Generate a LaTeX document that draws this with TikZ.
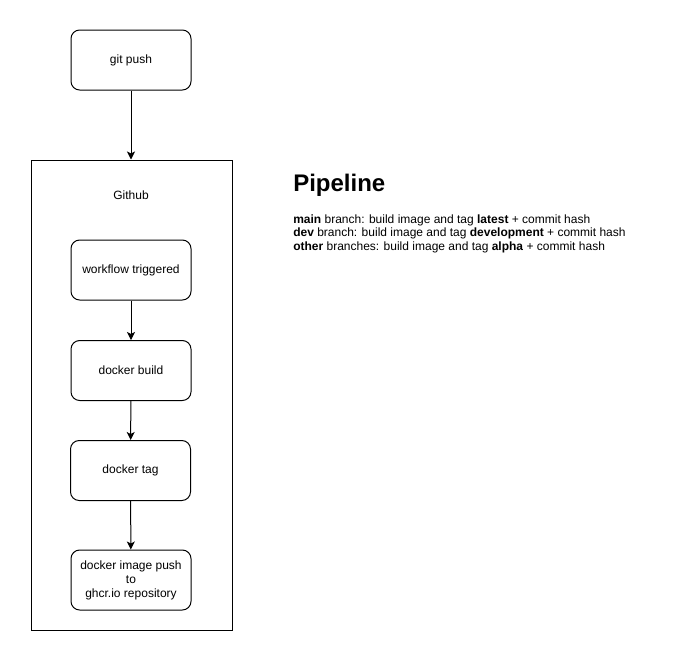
\documentclass[tikz,border=0pt]{standalone}
\usepackage{fontspec}
\setmainfont{Liberation Sans}
\usetikzlibrary{arrows.meta}
\begin{document}
\begin{tikzpicture}[x=0.75pt,y=-0.75pt,
  stepbox/.style={draw,rounded corners=6.5pt,minimum width=90pt,minimum height=45pt,
    align=center,font=\fontsize{9pt}{10.5pt}\selectfont,line width=0.75pt,inner sep=2pt},
  flow/.style={line width=0.75pt,-{Stealth[length=6pt,width=6pt,inset=1.5pt]}},
  note/.style={anchor=base west,inner sep=0pt,font=\fontsize{9pt}{10.5pt}\selectfont}]
\useasboundingbox (0,0) rectangle (681,661);
\node[draw,line width=0.75pt,minimum width=150.75pt,minimum height=352.5pt,inner sep=0pt] (github) at (131.5,395) {};
\node[font=\fontsize{9pt}{10.5pt}\selectfont] (ghlabel) at (131,195.5) {Github};
\node[stepbox] (gitpush) at (131,60) {git push};
\node[stepbox] (workflow) at (131,270) {workflow triggered};
\node[stepbox] (build) at (131,370.5) {docker build};
\node[stepbox] (tag) at (130.5,470.5) {docker tag};
\node[stepbox] (push) at (131,580) {docker image push\\to\\ghcr.io repository};
\draw[flow] (gitpush.south) -- (gitpush.south |- github.north);
\draw[flow] (workflow) -- (build);
\draw[flow] (build) -- (tag);
\draw[flow] (tag) -- (push);
\node[anchor=base west,inner sep=0pt,font=\fontsize{18pt}{21pt}\selectfont\bfseries] (title) at (293,191.5) {Pipeline};
\node[note] (l1) at (293,223) {\textbf{main} branch: build image and tag \textbf{latest} + commit hash};
\node[note] (l2) at (293,236.5) {\textbf{dev} branch: build image and tag \textbf{development} + commit hash};
\node[note] (l3) at (293,250.5) {\textbf{other} branches: build image and tag \textbf{alpha} + commit hash};
\end{tikzpicture}
\end{document}
